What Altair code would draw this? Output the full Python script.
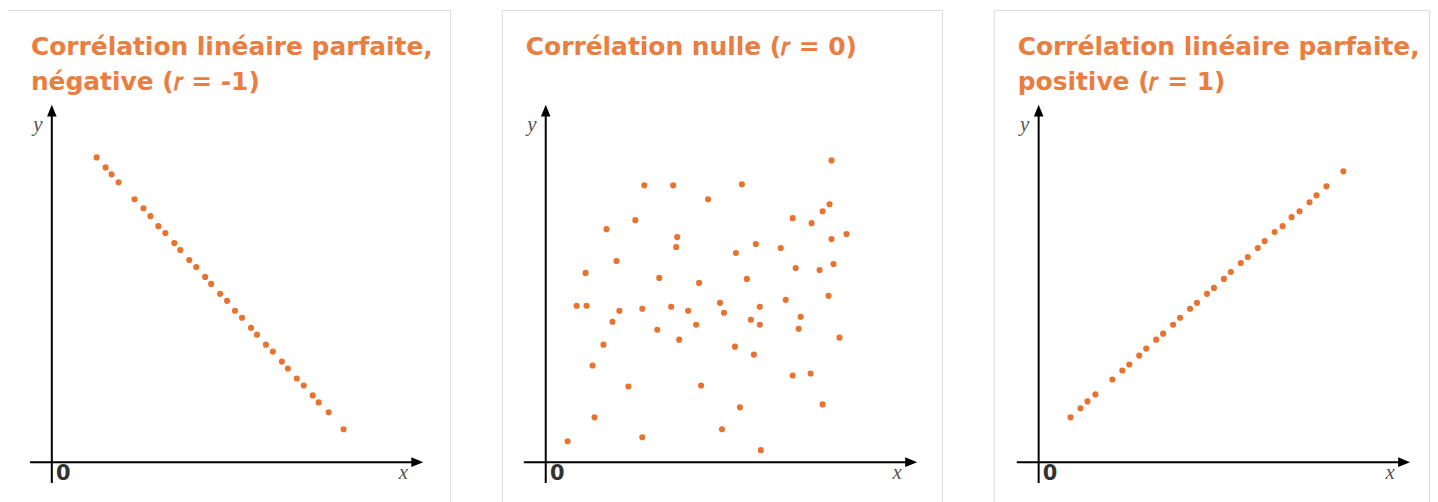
import altair as alt
import pandas as pd

# ---- data (units: tenths of the drawing's grid, origin at the axes crossing) ----
neg_x = [4.5, 5.4, 6.0, 6.7, 8.3, 9.2, 9.9, 10.7, 11.4, 12.3, 12.9, 13.8, 14.5, 15.4, 16.0, 16.9,
         17.6, 18.4, 19.1, 20.0, 20.6, 21.5, 22.2, 23.1, 23.7, 24.6, 25.3, 26.2, 26.8, 27.8, 29.3]
neg_y = [30.6, 29.6, 28.9, 28.1, 26.4, 25.5, 24.7, 23.7, 23.0, 22.0, 21.3, 20.3, 19.6, 18.6, 17.9, 16.9,
         16.2, 15.2, 14.5, 13.5, 12.8, 11.8, 11.1, 10.1, 9.4, 8.4, 7.7, 6.7, 6.0, 5.0, 3.3]

nul_x = [9.9, 12.8, 16.3, 9.0, 6.1, 13.2, 13.1, 7.1, 4.0, 11.4, 15.4, 3.1, 4.1, 7.4, 9.7, 12.6,
         14.3, 6.7, 15.1, 11.2, 13.4, 5.8, 4.7, 8.3, 15.6, 4.9, 9.7, 2.2,
         28.7, 19.7, 28.5, 27.8, 24.8, 26.7, 30.2, 28.7, 21.1, 19.1, 23.6, 25.1, 27.5, 28.9, 20.2,
         28.4, 24.1, 17.5, 17.9, 21.5, 25.6, 20.6, 21.5, 25.4, 29.5, 19.0, 20.9, 24.8, 26.6, 19.5,
         27.8, 17.7, 21.6]
nul_y = [27.8, 27.8, 26.4, 24.3, 23.4, 22.6, 21.6, 20.2, 19.0, 18.5, 18.0, 15.7, 15.7, 15.2, 15.4, 15.6,
         15.2, 14.1, 13.8, 13.3, 12.3, 11.8, 9.7, 7.6, 7.7, 4.5, 2.5, 2.1,
         30.3, 27.9, 25.9, 25.2, 24.5, 24.0, 22.9, 22.4, 21.9, 21.0, 21.5, 19.5, 19.3, 19.9, 18.4,
         16.7, 16.3, 16.0, 15.0, 15.6, 14.6, 14.3, 13.8, 13.4, 12.5, 11.6, 10.8, 8.7, 8.9, 5.5,
         5.8, 3.3, 1.2]

pos_x = [3.2, 4.2, 4.9, 5.7, 7.4, 8.4, 9.1, 10.1, 10.8, 11.8, 12.5, 13.5, 14.2, 15.2, 15.9, 16.9,
         17.6, 18.6, 19.3, 20.3, 21.0, 22.0, 22.7, 23.7, 24.5, 25.4, 26.2, 27.2, 27.9, 28.9, 30.6]
pos_y = [4.5, 5.4, 6.1, 6.8, 8.3, 9.2, 9.8, 10.7, 11.4, 12.3, 12.9, 13.8, 14.5, 15.4, 16.0, 16.9,
         17.5, 18.4, 19.1, 20.0, 20.6, 21.5, 22.2, 23.1, 23.7, 24.6, 25.2, 26.1, 26.8, 27.7, 29.2]

titles = [
    ["Corrélation linéaire parfaite,", "négative (𝑟 = -1)"],
    ["Corrélation nulle (𝑟 = 0)"],
    ["Corrélation linéaire parfaite,", "positive (𝑟 = 1)"],
]

ORANGE = "#E8732F"
TITLE_ORANGE = "#EA7D40"
H = 500
Y_DOM = [-4.6, 45.4]


def panel(xs, ys, lines, width, x_dom):
    df = pd.DataFrame({"x": xs, "y": ys})
    xsc = alt.Scale(domain=x_dom, nice=False, zero=False)
    ysc = alt.Scale(domain=Y_DOM, nice=False, zero=False)
    pts = alt.Chart(df).mark_circle(size=38, opacity=1, color=ORANGE).encode(
        x=alt.X("x:Q", scale=xsc, axis=None),
        y=alt.Y("y:Q", scale=ysc, axis=None),
    )
    base = alt.Chart(pd.DataFrame({"a": [0]}))
    xaxis = base.mark_rule(color="black", strokeWidth=2).encode(
        x=alt.datum(-2.2), x2=alt.datum(36.8), y=alt.datum(0))
    yaxis = base.mark_rule(color="black", strokeWidth=2).encode(
        x=alt.datum(0), y=alt.datum(-2.1), y2=alt.datum(35.3))
    xarrow = base.mark_point(shape="M-1,-0.8L1,0L-1,0.8Z", filled=True, color="black",
                             size=144, opacity=1).encode(x=alt.datum(36.7), y=alt.datum(0))
    yarrow = base.mark_point(shape="M-0.8,1L0,-1L0.8,1Z", filled=True, color="black",
                             size=144, opacity=1).encode(x=alt.datum(0), y=alt.datum(35.3))
    ylab = base.mark_text(font="Liberation Serif", fontStyle="italic", fontSize=21,
                          color="#555555").encode(x=alt.datum(-1.4), y=alt.datum(33.9), text=alt.value("y"))
    xlab = base.mark_text(font="Liberation Serif", fontStyle="italic", fontSize=21,
                          color="#555555").encode(x=alt.datum(35.3), y=alt.datum(-1.1), text=alt.value("x"))
    zlab = base.mark_text(font="DejaVu Sans", fontSize=21, fontWeight=600, color="#333333").encode(
        x=alt.datum(1.15), y=alt.datum(-1.2), text=alt.value("0"))
    layers = [pts, xaxis, yaxis, xarrow, yarrow, ylab, xlab, zlab]
    for i, line in enumerate(lines):
        layers.append(base.mark_text(font="DejaVu Sans", fontWeight="bold", fontSize=25,
                                     color=TITLE_ORANGE, align="left", baseline="alphabetic").encode(
            x=alt.value(24), y=alt.value(45 + 35 * i), text=alt.value(line)))
    return alt.layer(*layers).properties(width=width, height=H)


p1 = panel(neg_x, neg_y, titles[0], 445, [-4.5, 40.0])
p2 = panel(nul_x, nul_y, titles[1], 442, [-4.4, 39.8])
p3 = panel(pos_x, pos_y, titles[2], 437, [-4.5, 39.2])

chart = alt.hconcat(p1, p2, p3, spacing=50).properties(
    padding={"left": -2, "top": 0, "right": 0, "bottom": 0}
).configure_view(stroke="#E4DFD9", strokeWidth=2).configure(background="white")

chart.save("out.html", embed_options={"renderer": "svg", "actions": False})
